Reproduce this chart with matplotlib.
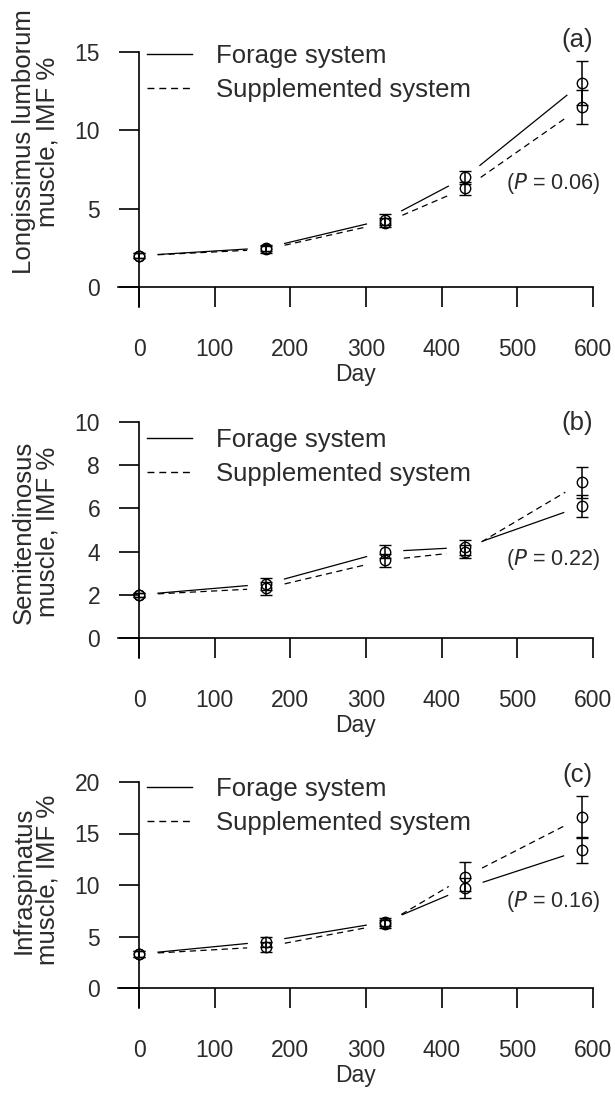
import numpy as np
import matplotlib
matplotlib.use("Agg")
import matplotlib.pyplot as plt
from matplotlib.lines import Line2D

plt.rcParams["font.family"] = ["Liberation Sans", "DejaVu Sans"]

# data
days = [0, 168, 325, 431, 585]
series_names = ["Forage system", "Supplemented system"]
panel_tags = ["(a)", "(b)", "(c)"]
p_values = ["0.06", "0.22", "0.16"]
ylabels = ["Longissimus lumborum\nmuscle, IMF %",
           "Semitendinosus\nmuscle, IMF %",
           "Infraspinatus\nmuscle, IMF %"]

forage_ll = [2.0, 2.5, 4.3, 7.0, 13.0]
forage_ll_err = [0.15, 0.2, 0.35, 0.4, 1.4]
supp_ll = [2.0, 2.4, 4.1, 6.3, 11.5]
supp_ll_err = [0.15, 0.2, 0.3, 0.4, 1.1]

forage_st = [2.0, 2.5, 4.0, 4.2, 6.1]
forage_st_err = [0.1, 0.3, 0.3, 0.35, 0.5]
supp_st = [2.0, 2.3, 3.6, 4.0, 7.2]
supp_st_err = [0.1, 0.3, 0.3, 0.3, 0.7]

forage_is = [3.3, 4.5, 6.4, 9.7, 13.4]
forage_is_err = [0.3, 0.5, 0.4, 1.0, 1.3]
supp_is = [3.3, 4.0, 6.2, 10.8, 16.6]
supp_is_err = [0.3, 0.5, 0.4, 1.4, 2.0]

xticks = [0, 100, 200, 300, 400, 500, 600]
yticks = [[0, 5, 10, 15], [0, 2, 4, 6, 8, 10], [0, 5, 10, 15, 20]]

# layout (pixels on a 615 x 1093 canvas)
W, H = 615, 1093
ax_left, ax_y0, ax_right = 118, 139, 593
ax_top = [52, 422, 782]
ax_zero = [287, 638, 988]
tick_len = 20
legend_top = [44, 428, 777]
label_y = [142, 532, 880]
ptext_y = [184, 559, 902]
tag_y = [40, 423, 775]
txt_col = "#2b2b2b"


def gapped_line(ax, x, y, gap, **kw):
    # segments between points, stopped short of the markers
    pts = ax.transData.transform(np.column_stack([x, y]))
    inv = ax.transData.inverted()
    for p0, p1 in zip(pts[:-1], pts[1:]):
        d = p1 - p0
        u = d / np.hypot(*d)
        seg = inv.transform([p0 + u * gap, p1 - u * gap])
        ax.plot(seg[:, 0], seg[:, 1], color="black", **kw)


fig = plt.figure(figsize=(W / 100, H / 100), dpi=100)

panels = [
    (forage_ll, forage_ll_err, supp_ll, supp_ll_err),
    (forage_st, forage_st_err, supp_st, supp_st_err),
    (forage_is, forage_is_err, supp_is, supp_is_err),
]

dash = (0, (5, 3.5))
xscale = (ax_right - ax_y0) / xticks[-1]
for i, (f, fe, s, se) in enumerate(panels):
    bottom_px = ax_zero[i] + tick_len
    ax = fig.add_axes([ax_left / W, 1 - bottom_px / H,
                       (ax_right - ax_left) / W, (bottom_px - ax_top[i]) / H])
    ymax = yticks[i][-1]
    yscale = (ax_zero[i] - ax_top[i]) / ymax
    ax.set_xlim(-(ax_y0 - ax_left) / xscale, xticks[-1])
    ax.set_ylim(-tick_len / yscale, ymax)
    for side in ["top", "right"]:
        ax.spines[side].set_visible(False)
    ax.spines["left"].set_position(("data", 0))
    ax.spines["bottom"].set_position(("data", 0))
    for side in ["left", "bottom"]:
        ax.spines[side].set_linewidth(1.2)
    ax.set_xticks(xticks)
    ax.set_yticks(yticks[i])
    ax.tick_params(axis="both", direction="out", length=14.4, width=1.2,
                   colors="black", labelcolor=txt_col, labelsize=16.5)
    ax.tick_params(axis="y", pad=13.5)
    ax.tick_params(axis="x", pad=22)
    ax.set_xlabel("Day", fontsize=16.5, color=txt_col, labelpad=2)

    gapped_line(ax, days, f, 19, lw=0.9, linestyle="-")
    gapped_line(ax, days, s, 19, lw=0.9, linestyle=dash)
    for vals, errs in [(f, fe), (s, se)]:
        ax.errorbar(days, vals, yerr=errs, fmt="o", mfc="none", mec="black",
                    ms=7.5, mew=1.0, ecolor="black", elinewidth=1.1,
                    capsize=4.3, capthick=1.1, clip_on=False, zorder=3)

    handles = [Line2D([], [], color="black", lw=1.0, linestyle="-"),
               Line2D([], [], color="black", lw=1.0, linestyle=dash)]
    leg = ax.legend(handles, series_names, loc="upper left",
                    bbox_to_anchor=(147 / W, 1 - legend_top[i] / H),
                    bbox_transform=fig.transFigure, frameon=False,
                    fontsize=18.5, handlelength=1.75, handletextpad=0.95,
                    labelspacing=0.4, borderpad=0, borderaxespad=0)
    for t in leg.get_texts():
        t.set_color(txt_col)

    fig.text(36 / W, 1 - label_y[i] / H, ylabels[i], rotation=90,
             ha="center", va="center", multialignment="center",
             fontsize=18.5, color=txt_col, linespacing=1.0)
    fig.text(577 / W, 1 - tag_y[i] / H, panel_tags[i], ha="center",
             va="center", fontsize=18.5, color=txt_col)
    fig.text(553 / W, 1 - ptext_y[i] / H, "($P$ = " + p_values[i] + ")",
             ha="center", va="center", fontsize=15.5, color=txt_col)

fig.savefig("out.png", dpi=100)
